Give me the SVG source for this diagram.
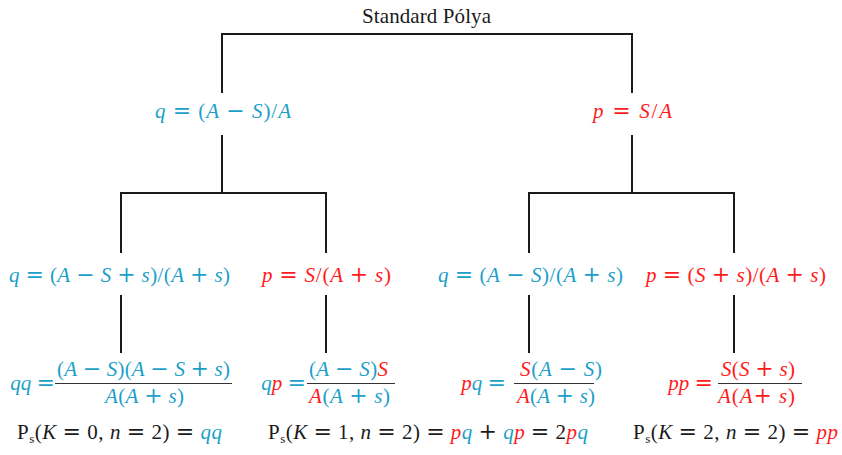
<svg xmlns="http://www.w3.org/2000/svg" width="842" height="455" viewBox="0 0 842 455">
<style>
.m{font-family:"Liberation Serif","Times New Roman",serif;font-size:21px;fill:#1a1a1a}
.t{font-family:"Liberation Serif","Times New Roman",serif;font-size:21px;fill:#1a1a1a}
.i{font-style:italic}
.o{font-family:"DejaVu Serif",serif;font-size:22px}
.c{fill:#1b9fc8}
.r{fill:#ff1a1a}
.k{fill:#1a1a1a}
.e{text-anchor:end}
.sub{font-size:13px}
.ln{fill:none;stroke:#1a1a1a;stroke-width:2}
.fr{stroke:#333;stroke-width:1.2}
</style>
<g id="connectors">
<path class="ln" d="M222 93 V34 H632 V93"/>
<path class="ln" d="M222 135 V193 M121 253 V193 H326 V253"/>
<path class="ln" d="M632 135 V193 M529 253 V193 H734 V253"/>
<path class="ln" d="M121 295 V353 M326 295 V353 M529 295 V353 M734 295 V353"/>
</g>
<g id="title"><text class="t" x="362" y="23" textLength="129" lengthAdjust="spacing">Standard Pólya</text></g>
<g id="n-q1"><text class="m c" x="155" y="118" textLength="136" lengthAdjust="spacing"><tspan class="i">q</tspan> <tspan class="o">=</tspan> (<tspan class="i">A</tspan> <tspan class="o">−</tspan> <tspan class="i">S</tspan>)/<tspan class="i">A</tspan></text></g>
<g id="n-p1"><text class="m r" x="593" y="118" textLength="79" lengthAdjust="spacing"><tspan class="i">p</tspan> <tspan class="o">=</tspan> <tspan class="i">S</tspan>/<tspan class="i">A</tspan></text></g>
<g id="n-q2a"><text class="m c" x="9" y="282" textLength="221" lengthAdjust="spacing"><tspan class="i">q</tspan> <tspan class="o">=</tspan> (<tspan class="i">A</tspan> <tspan class="o">−</tspan> <tspan class="i">S</tspan> <tspan class="o">+</tspan> <tspan class="i">s</tspan>)/(<tspan class="i">A</tspan> <tspan class="o">+</tspan> <tspan class="i">s</tspan>)</text></g>
<g id="n-p2a"><text class="m r" x="262" y="282" textLength="129" lengthAdjust="spacing"><tspan class="i">p</tspan> <tspan class="o">=</tspan> <tspan class="i">S</tspan>/(<tspan class="i">A</tspan> <tspan class="o">+</tspan> <tspan class="i">s</tspan>)</text></g>
<g id="n-q2b"><text class="m c" x="438" y="282" textLength="185" lengthAdjust="spacing"><tspan class="i">q</tspan> <tspan class="o">=</tspan> (<tspan class="i">A</tspan> <tspan class="o">−</tspan> <tspan class="i">S</tspan>)/(<tspan class="i">A</tspan> <tspan class="o">+</tspan> <tspan class="i">s</tspan>)</text></g>
<g id="n-p2b"><text class="m r" x="646" y="282" textLength="180" lengthAdjust="spacing"><tspan class="i">p</tspan> <tspan class="o">=</tspan> (<tspan class="i">S</tspan> <tspan class="o">+</tspan> <tspan class="i">s</tspan>)/(<tspan class="i">A</tspan> <tspan class="o">+</tspan> <tspan class="i">s</tspan>)</text></g>
<g id="leaf-qq">
<text class="m c e" x="55" y="390"><tspan class="i">qq</tspan> <tspan class="o">=</tspan></text>
<text class="m c" x="57" y="376" textLength="173" lengthAdjust="spacing">(<tspan class="i">A</tspan> <tspan class="o">−</tspan> <tspan class="i">S</tspan>)(<tspan class="i">A</tspan> <tspan class="o">−</tspan> <tspan class="i">S</tspan> <tspan class="o">+</tspan> <tspan class="i">s</tspan>)</text>
<line class="fr" x1="55" y1="383.5" x2="232" y2="383.5"/>
<text class="m c" x="105" y="403" textLength="79" lengthAdjust="spacing"><tspan class="i">A</tspan>(<tspan class="i">A</tspan> <tspan class="o">+</tspan> <tspan class="i">s</tspan>)</text>
</g>
<g id="leaf-qp">
<text class="m c e" x="306" y="390"><tspan class="i">q</tspan><tspan class="i r">p</tspan> <tspan class="o">=</tspan></text>
<text class="m c" x="309" y="376" textLength="79" lengthAdjust="spacing">(<tspan class="i">A</tspan> <tspan class="o">−</tspan> <tspan class="i">S</tspan>)<tspan class="i r">S</tspan></text>
<line class="fr" x1="307" y1="383.5" x2="395" y2="383.5"/>
<text class="m c" x="309" y="403" textLength="81" lengthAdjust="spacing"><tspan class="i r">A</tspan>(<tspan class="i">A</tspan> <tspan class="o">+</tspan> <tspan class="i">s</tspan>)</text>
</g>
<g id="leaf-pq">
<text class="m c e" x="506" y="390"><tspan class="i r">p</tspan><tspan class="i">q</tspan> <tspan class="o">=</tspan></text>
<text class="m c" x="520" y="376" textLength="82" lengthAdjust="spacing"><tspan class="i r">S</tspan>(<tspan class="i">A</tspan> <tspan class="o">−</tspan> <tspan class="i">S</tspan>)</text>
<line class="fr" x1="514" y1="383.5" x2="594" y2="383.5"/>
<text class="m c" x="517" y="403" textLength="78" lengthAdjust="spacing"><tspan class="i r">A</tspan>(<tspan class="i">A</tspan> <tspan class="o">+</tspan> <tspan class="i">s</tspan>)</text>
</g>
<g id="leaf-pp">
<text class="m r e" x="713" y="390"><tspan class="i">pp</tspan> <tspan class="o">=</tspan></text>
<text class="m r" x="721" y="376" textLength="74" lengthAdjust="spacing"><tspan class="i">S</tspan>(<tspan class="i">S</tspan> <tspan class="o">+</tspan> <tspan class="i">s</tspan>)</text>
<line class="fr" x1="718" y1="383.5" x2="802" y2="383.5"/>
<text class="m r" x="718" y="403" textLength="77" lengthAdjust="spacing"><tspan class="i">A</tspan>(<tspan class="i">A</tspan><tspan class="o">+</tspan> <tspan class="i">s</tspan>)</text>
</g>
<g id="res-0"><text class="m" x="17" y="439" textLength="205" lengthAdjust="spacing">P<tspan class="sub" dy="4">s</tspan><tspan dy="-4">(</tspan><tspan class="i">K</tspan> <tspan class="o">=</tspan> 0, <tspan class="i">n</tspan> <tspan class="o">=</tspan> 2) <tspan class="o">=</tspan> <tspan class="i c">qq</tspan></text></g>
<g id="res-1"><text class="m" x="268" y="439" textLength="320" lengthAdjust="spacing">P<tspan class="sub" dy="4">s</tspan><tspan dy="-4">(</tspan><tspan class="i">K</tspan> <tspan class="o">=</tspan> 1, <tspan class="i">n</tspan> <tspan class="o">=</tspan> 2) <tspan class="o">=</tspan> <tspan class="i r">p</tspan><tspan class="i c">q</tspan> <tspan class="o">+</tspan> <tspan class="i c">q</tspan><tspan class="i r">p</tspan> <tspan class="o">=</tspan> 2<tspan class="i r">p</tspan><tspan class="i c">q</tspan></text></g>
<g id="res-2"><text class="m" x="633" y="439" textLength="205" lengthAdjust="spacing">P<tspan class="sub" dy="4">s</tspan><tspan dy="-4">(</tspan><tspan class="i">K</tspan> <tspan class="o">=</tspan> 2, <tspan class="i">n</tspan> <tspan class="o">=</tspan> 2) <tspan class="o">=</tspan> <tspan class="i r">pp</tspan></text></g>
</svg>
